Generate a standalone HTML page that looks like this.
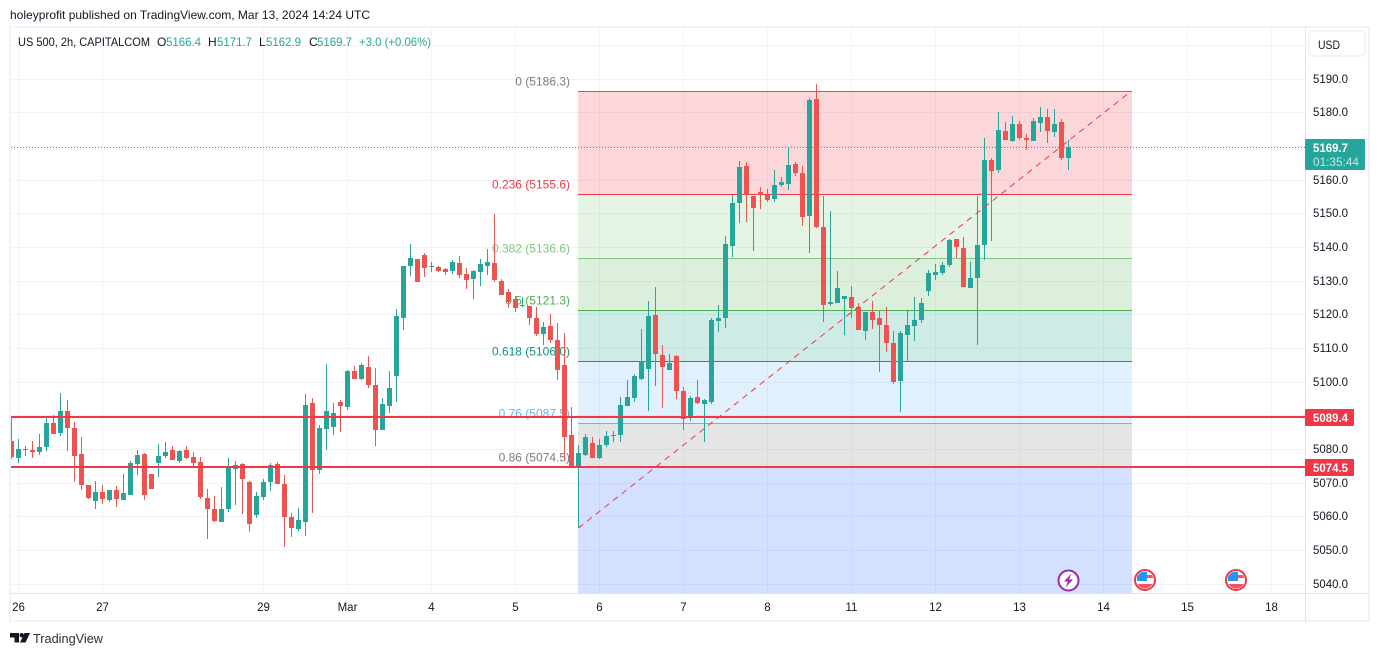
<!DOCTYPE html>
<html lang="en">
<head>
<meta charset="utf-8">
<title>US 500 2h chart</title>
<style>
html,body{margin:0;padding:0;background:#fff;width:1379px;height:656px;overflow:hidden}
svg{display:block;font-family:"Liberation Sans",sans-serif}
text{font-size:11.5px;fill:#131722}
</style>
</head>
<body>
<svg id="chart" width="1379" height="656" viewBox="0 0 1379 656" xmlns="http://www.w3.org/2000/svg">
  <defs>
    <clipPath id="plot-clip"><rect x="11" y="28" width="1294" height="565"/></clipPath>
    <clipPath id="flag-clip-a"><circle cx="1145" cy="580" r="8.5"/></clipPath>
    <clipPath id="flag-clip-b"><circle cx="1236" cy="580" r="8.5"/></clipPath>
  </defs>
  <rect x="0" y="0" width="1379" height="656" fill="#ffffff"/>
  <text x="10" y="19" textLength="360" lengthAdjust="spacingAndGlyphs" style="font-size:12px">holeyprofit published on TradingView.com, Mar 13, 2024 14:24 UTC</text>

  <g id="grid" clip-path="url(#plot-clip)"></g>
  <g id="fib" clip-path="url(#plot-clip)"></g>
  <g id="priceline"></g>
  <g id="candles" clip-path="url(#plot-clip)"></g>
  <g id="trend" clip-path="url(#plot-clip)"></g>
  <g id="hlines"></g>

  <rect x="10" y="27" width="1359" height="594" fill="none" stroke="#f0f3fa" stroke-width="2"/>
  <line x1="1305.5" y1="27" x2="1305.5" y2="621" stroke="#e0e3eb"/>
  <line x1="10" y1="593.5" x2="1369" y2="593.5" stroke="#e0e3eb"/>

  <g id="price-axis"></g>
  <g id="time-axis"></g>
  <g id="tags"></g>

  <g>
    <rect x="1309" y="31" width="56" height="25" rx="4" fill="#ffffff" stroke="#f0f3fa" stroke-width="2"/>
    <text x="1318" y="49" textLength="22" lengthAdjust="spacingAndGlyphs" style="font-size:12px">USD</text>
  </g>

  <g style="font-size:12px">
    <text x="18" y="46" textLength="132" lengthAdjust="spacingAndGlyphs" style="font-size:12px">US 500, 2h, CAPITALCOM</text>
    <text x="157" y="46" style="font-size:12px">O</text>
    <text x="166" y="46" textLength="35" lengthAdjust="spacingAndGlyphs" style="fill:#26a69a;font-size:12px">5166.4</text>
    <text x="208" y="46" style="font-size:12px">H</text>
    <text x="217" y="46" textLength="35" lengthAdjust="spacingAndGlyphs" style="fill:#26a69a;font-size:12px">5171.7</text>
    <text x="259" y="46" style="font-size:12px">L</text>
    <text x="266" y="46" textLength="35" lengthAdjust="spacingAndGlyphs" style="fill:#26a69a;font-size:12px">5162.9</text>
    <text x="309" y="46" style="font-size:12px">C</text>
    <text x="317" y="46" textLength="35" lengthAdjust="spacingAndGlyphs" style="fill:#26a69a;font-size:12px">5169.7</text>
    <text x="359" y="46" textLength="72" lengthAdjust="spacingAndGlyphs" style="fill:#26a69a;font-size:12px">+3.0 (+0.06%)</text>
  </g>

  <g>
    <circle cx="1068.5" cy="580.5" r="10" fill="#ffffff" stroke="#9c27b0" stroke-width="2"/>
    <polygon points="1071.5,573.5 1064,581.5 1068,581.5 1065.5,587.5 1073,579.5 1069,579.5" fill="#9c27b0"/>
  </g>
  <g>
    <circle cx="1145" cy="580" r="10" fill="#ffffff" stroke="#f23645" stroke-width="2"/>
    <g clip-path="url(#flag-clip-a)">
      <rect x="1137" y="572" width="10" height="9" fill="#2196f3"/>
      <rect x="1147" y="575" width="9" height="3" fill="#f7525f"/>
      <rect x="1136" y="584" width="20" height="5" fill="#f7525f"/>
    </g>
  </g>
  <g>
    <circle cx="1236" cy="580" r="10" fill="#ffffff" stroke="#f23645" stroke-width="2"/>
    <g clip-path="url(#flag-clip-b)">
      <rect x="1228" y="572" width="10" height="9" fill="#2196f3"/>
      <rect x="1238" y="575" width="9" height="3" fill="#f7525f"/>
      <rect x="1227" y="584" width="20" height="5" fill="#f7525f"/>
    </g>
  </g>

  <g>
    <path d="M10 633h9v9.5h-4.5v-5H10z" fill="#131722"/>
    <circle cx="21.7" cy="635.2" r="2.2" fill="#131722"/>
    <polygon points="24.5,633 30,633 25.5,642.5 20,642.5" fill="#131722"/>
    <text x="33" y="643" textLength="70" lengthAdjust="spacingAndGlyphs" style="font-size:13px;fill:#2a2e39">TradingView</text>
  </g>
</svg>

<script>
const opens = [5082.3,5077.3,5079.7,5079.7,5079.1,5080.6,5087.7,5084.7,5091.2,5086.2,5078.5,5069.3,5064.5,5067.2,5064.8,5067.8,5064.8,5066.3,5075.5,5078.5,5072.5,5075.8,5077.9,5079.7,5076.4,5079.7,5077.6,5076.1,5065.4,5062.1,5058.3,5062.1,5074.0,5075.5,5070.2,5060.4,5065.7,5070.2,5075.5,5069.6,5059.8,5056.2,5058.3,5093.6,5073.7,5085.9,5086.5,5093.9,5092.4,5103.1,5100.7,5104.3,5099.0,5085.6,5092.7,5101.6,5118.9,5134.3,5136.4,5137.6,5134.0,5134.0,5133.4,5132.8,5135.2,5131.9,5130.4,5132.5,5134.3,5135.2,5129.9,5126.6,5124.5,5122.4,5122.4,5118.9,5114.1,5116.5,5112.3,5104.9,5084.1,5074.3,5078.2,5081.7,5077.3,5081.1,5083.8,5084.1,5092.7,5095.1,5100.7,5103.7,5119.8,5107.9,5103.4,5107.6,5097.2,5089.2,5095.4,5093.3,5093.9,5118.0,5118.9,5140.2,5153.0,5164.0,5155.1,5156.3,5155.4,5154.2,5158.4,5158.7,5164.6,5161.9,5149.2,5183.9,5145.9,5123.0,5123.3,5124.5,5125.1,5122.1,5115.0,5120.6,5118.9,5116.8,5111.4,5100.1,5113.8,5116.5,5118.3,5126.9,5131.6,5132.2,5134.6,5142.3,5139.7,5127.8,5130.7,5140.6,5165.8,5162.8,5174.4,5171.4,5176.5,5172.3,5171.4,5176.8,5178.6,5174.1,5177.1,5166.4];
const highs = [5089.6,5082.9,5080.9,5082.3,5084.4,5089.2,5090.1,5096.6,5094.5,5088.0,5083.5,5069.3,5070.5,5069.3,5067.8,5069.0,5072.5,5076.4,5079.7,5078.8,5072.5,5081.4,5082.0,5080.9,5079.7,5080.9,5079.1,5077.6,5068.1,5066.0,5068.7,5077.3,5076.4,5075.8,5070.5,5067.2,5071.0,5075.8,5076.1,5072.2,5061.0,5062.4,5096.3,5095.1,5087.1,5105.2,5093.6,5094.5,5103.4,5104.6,5105.4,5107.6,5104.0,5095.1,5103.1,5121.5,5134.3,5140.8,5136.4,5138.2,5135.5,5134.3,5133.7,5136.1,5137.3,5133.7,5133.1,5136.4,5139.4,5149.7,5130.5,5127.5,5125.4,5125.1,5122.4,5122.1,5117.7,5120.1,5117.4,5114.4,5092.4,5081.1,5084.4,5083.5,5082.9,5085.3,5085.3,5095.4,5100.4,5102.2,5115.6,5123.9,5128.1,5110.8,5108.2,5107.9,5098.4,5095.7,5100.4,5094.8,5118.9,5122.7,5143.2,5155.4,5165.5,5165.2,5155.1,5157.8,5157.2,5162.8,5160.7,5169.3,5165.2,5164.0,5184.2,5188.4,5155.1,5150.6,5132.8,5125.4,5128.4,5123.3,5120.6,5123.9,5121.2,5122.1,5115.0,5115.0,5121.2,5125.1,5124.8,5133.1,5134.9,5135.5,5142.3,5142.3,5142.9,5135.5,5155.1,5172.3,5166.4,5180.1,5177.1,5178.9,5177.4,5173.5,5178.3,5181.5,5180.9,5180.9,5178.0,5171.7];
const lows = [5077.0,5075.8,5077.9,5077.3,5078.2,5079.4,5084.4,5083.8,5079.4,5070.2,5067.8,5065.1,5062.1,5063.6,5064.2,5062.7,5064.8,5066.3,5072.2,5064.8,5068.1,5071.6,5077.3,5076.7,5075.8,5077.0,5074.9,5065.1,5053.2,5058.3,5058.3,5061.2,5063.3,5060.6,5055.3,5059.5,5064.8,5067.5,5069.6,5050.9,5053.8,5055.6,5054.1,5061.0,5072.5,5079.7,5084.1,5085.0,5091.5,5100.7,5100.4,5098.1,5080.9,5085.6,5090.6,5093.9,5115.3,5131.3,5129.6,5131.0,5132.5,5132.5,5131.6,5131.9,5130.7,5127.5,5124.5,5128.4,5131.6,5129.6,5125.7,5121.8,5120.6,5122.1,5116.8,5113.5,5110.8,5111.4,5100.4,5076.7,5074.6,5056.5,5077.9,5077.3,5077.0,5080.6,5082.0,5082.0,5092.7,5093.9,5100.4,5091.2,5098.7,5092.1,5103.4,5094.8,5085.6,5088.3,5093.3,5082.0,5093.3,5114.7,5115.9,5137.0,5147.1,5147.4,5138.8,5151.2,5153.3,5153.3,5157.8,5156.9,5161.0,5146.2,5138.2,5145.6,5117.7,5122.4,5123.3,5113.8,5118.9,5115.3,5112.3,5115.6,5102.8,5108.8,5099.3,5090.9,5105.8,5112.0,5117.4,5125.4,5130.2,5131.6,5134.0,5136.7,5128.1,5127.8,5110.8,5136.1,5141.7,5161.9,5171.7,5171.1,5171.7,5168.8,5171.4,5174.1,5170.8,5172.6,5165.8,5162.9];
const closes = [5077.6,5080.0,5080.0,5079.1,5080.6,5087.7,5084.4,5091.2,5086.2,5077.9,5069.3,5065.4,5067.2,5065.1,5067.8,5065.1,5066.9,5075.8,5078.2,5066.3,5068.1,5077.9,5079.1,5076.7,5079.4,5077.3,5075.8,5065.7,5062.1,5058.6,5062.1,5074.6,5075.2,5071.0,5057.7,5066.0,5070.2,5075.2,5069.6,5059.8,5056.5,5058.9,5093.0,5073.7,5086.2,5091.2,5090.6,5092.7,5103.1,5100.7,5104.9,5099.0,5085.6,5093.3,5098.1,5119.5,5134.3,5136.7,5129.6,5133.7,5134.3,5132.8,5132.5,5135.5,5131.6,5130.2,5132.8,5134.9,5135.5,5130.2,5125.7,5123.6,5121.8,5122.7,5118.9,5114.1,5116.2,5112.3,5103.4,5083.5,5074.6,5078.8,5083.5,5077.3,5081.1,5083.8,5084.1,5093.0,5095.4,5101.6,5106.1,5119.5,5108.2,5104.3,5105.5,5097.2,5088.9,5095.1,5093.6,5094.5,5118.3,5118.9,5140.8,5153.0,5163.7,5155.4,5151.5,5155.4,5153.9,5158.4,5159.3,5164.3,5161.9,5148.9,5183.6,5145.9,5122.7,5123.6,5127.8,5125.4,5121.8,5115.3,5120.6,5118.3,5116.8,5111.4,5099.9,5114.4,5116.8,5118.3,5123.3,5132.2,5132.5,5134.6,5142.0,5140.0,5128.1,5130.7,5140.6,5165.8,5162.5,5174.7,5171.7,5176.5,5172.3,5171.7,5177.4,5178.6,5174.4,5176.5,5166.4,5169.7];

const priceTicks = [5040,5050,5060,5070,5080,5090,5100,5110,5120,5130,5140,5150,5160,5170,5180,5190];
const hiddenGridPrices = [5200];
const timeLabels = ['26','27','29','Mar','4','5','6','7','8','11','12','13','14','15','18'];
const timeBars = [1,13,36,48,60,72,84,96,108,120,132,144,156,168,180];

const fibRatios = ['0','0.236','0.382','0.5','0.618','0.76','0.86'];
const fibPrices = [5186.3,5155.6,5136.6,5121.3,5106.0,5087.5,5074.5];
const fibColors = ['#787b86','#f23645','#81c784','#4caf50','#089981','#64b5f6','#787b86'];
const fibFillBelow = ['rgba(242,54,69,.2)','rgba(129,199,132,.2)','rgba(76,175,80,.2)','rgba(8,153,129,.2)','rgba(100,181,246,.2)','rgba(120,123,134,.2)','rgba(41,98,255,.2)'];
const fibStartBar = 81;
const fibEndBar = 160;
const trendStartPrice = 5056.5;
const trendEndPrice = 5186.3;
const levelPrices = [5089.4,5074.5];
const countdown = '01:35:44';

const SVGNS = 'http://www.w3.org/2000/svg';
const GREEN = '#26a69a';
const RED = '#ef5350';
const LEVEL_RED = '#f23645';

function xOf(bar) { return 11.5 + 7 * bar; }
function yOf(price) { return 78.5 + (5190 - price) * (505 / 150); }
function mk(tag, parent) {
  const el = document.createElementNS(SVGNS, tag);
  parent.appendChild(el);
  return el;
}
function setAll(el, attrs) {
  for (const k in attrs) el.setAttribute(k, attrs[k]);
}

const gridG = document.getElementById('grid');
priceTicks.concat(hiddenGridPrices).forEach(function (p) {
  const line = mk('line', gridG);
  
  
  const y = Math.floor(yOf(p) + 0.5) + 0.5;
  setAll(line, { x1: 11, x2: 1305, y1: y, y2: y, stroke: '#f0f3fa' });
});
timeBars.forEach(function (b) {
  const line = mk('line', gridG);
  
  
  setAll(line, { x1: xOf(b), x2: xOf(b), y1: 28, y2: 593, stroke: '#f0f3fa' });
});

const fibG = document.getElementById('fib');
const fibLeft = Math.floor(xOf(fibStartBar));
const fibRight = Math.round(xOf(fibEndBar));
fibPrices.forEach(function (p, i) {
  const top = Math.round(yOf(p) - 0.2);
  const bottom = i === fibPrices.length - 1 ? 593 : Math.round(yOf(fibPrices[i + 1]) - 0.2);
  const band = mk('rect', fibG);
  
  
  setAll(band, { x: fibLeft, y: top, width: fibRight - fibLeft, height: bottom - top, fill: fibFillBelow[i], 'shape-rendering': 'crispEdges' });
});
fibPrices.forEach(function (p, i) {
  const y = Math.round(yOf(p) - 0.2) + 0.5;
  const line = mk('line', fibG);
  
  
  setAll(line, { x1: fibLeft, x2: fibRight, y1: y, y2: y, stroke: fibColors[i] });
  const label = mk('text', fibG);
  
  
  setAll(label, { x: 570, y: y - 6, 'text-anchor': 'end' });
  label.style.fill = fibColors[i];
  label.style.fontSize = '12px';
  label.textContent = fibRatios[i] + ' (' + p.toFixed(1) + ')';
});

const lastClose = closes[closes.length - 1];
const lastOpen = opens[opens.length - 1];
const lineColor = lastClose >= lastOpen ? GREEN : RED;
const plG = document.getElementById('priceline');
const priceLine = mk('line', plG);


const plY = Math.round(yOf(lastClose)) + 0.5;
setAll(priceLine, { x1: 11, x2: 1305, y1: plY, y2: plY, stroke: lineColor, 'stroke-dasharray': '1 2' });

const candleG = document.getElementById('candles');
opens.forEach(function (o, i) {
  const c = closes[i];
  const color = c >= o ? GREEN : RED;
  const cx = xOf(i);
  const g = mk('g', candleG);
  
  
  const wick = mk('rect', g);
  
  
  const wy1 = Math.round(yOf(highs[i]));
  const wy2 = Math.round(yOf(lows[i]));
  setAll(wick, { x: cx - 0.5, y: wy1, width: 1, height: Math.max(1, wy2 - wy1), fill: color, 'shape-rendering': 'crispEdges' });
  const body = mk('rect', g);
  
  
  const by1 = Math.round(yOf(Math.max(o, c)));
  const by2 = Math.round(yOf(Math.min(o, c)));
  setAll(body, { x: cx - 2.5, y: by1, width: 5, height: Math.max(1, by2 - by1), fill: color, 'shape-rendering': 'crispEdges' });
});

const trendG = document.getElementById('trend');
const trendLine = mk('line', trendG);


setAll(trendLine, { x1: xOf(fibStartBar), y1: yOf(trendStartPrice), x2: xOf(fibEndBar), y2: yOf(trendEndPrice), stroke: LEVEL_RED, 'stroke-width': 1, 'stroke-dasharray': '6 5' });

const hG = document.getElementById('hlines');
levelPrices.forEach(function (p) {
  const r = mk('rect', hG);
  
  
  setAll(r, { x: 10, y: Math.round(yOf(p) - 1), width: 1295, height: 2, fill: LEVEL_RED, 'shape-rendering': 'crispEdges' });
});

const paG = document.getElementById('price-axis');
priceTicks.forEach(function (p) {
  const t = mk('text', paG);
  
  
  setAll(t, { x: 1313, y: Math.round(yOf(p)) + 4, textLength: 35, lengthAdjust: 'spacingAndGlyphs' });
  t.style.fontSize = '12px';
  t.textContent = p.toFixed(1);
});

const taG = document.getElementById('time-axis');
timeLabels.forEach(function (label, i) {
  const t = mk('text', taG);
  
  
  setAll(t, { x: xOf(timeBars[i]), y: 611, 'text-anchor': 'middle' });
  t.textContent = label;
});

const tagG = document.getElementById('tags');
const lastTagY = Math.round(yOf(lastClose));
const lastTag = mk('rect', tagG);


setAll(lastTag, { x: 1305, y: lastTagY - 8, width: 60, height: 31, rx: 1, fill: lineColor });
const lastText = mk('text', tagG);


setAll(lastText, { x: 1313, y: lastTagY + 5, textLength: 35, lengthAdjust: 'spacingAndGlyphs' });
lastText.style.fill = '#ffffff';
lastText.style.fontSize = '12px';
lastText.style.fontWeight = 'bold';
lastText.textContent = lastClose.toFixed(1);
const cdText = mk('text', tagG);


setAll(cdText, { x: 1313, y: lastTagY + 19, textLength: 46, lengthAdjust: 'spacingAndGlyphs' });
cdText.style.fill = 'rgba(255,255,255,.75)';
cdText.style.fontSize = '12px';
cdText.textContent = countdown;
levelPrices.forEach(function (p) {
  const y = Math.round(yOf(p));
  const r = mk('rect', tagG);
  
  
  setAll(r, { x: 1305, y: y - 8, width: 49, height: 17, rx: 1, fill: LEVEL_RED });
  const t = mk('text', tagG);
  
  
  setAll(t, { x: 1313, y: y + 5, textLength: 35, lengthAdjust: 'spacingAndGlyphs' });
  t.style.fill = '#ffffff';
  t.style.fontSize = '12px';
  t.style.fontWeight = 'bold';
  t.textContent = p.toFixed(1);
});
</script>
</body>
</html>
